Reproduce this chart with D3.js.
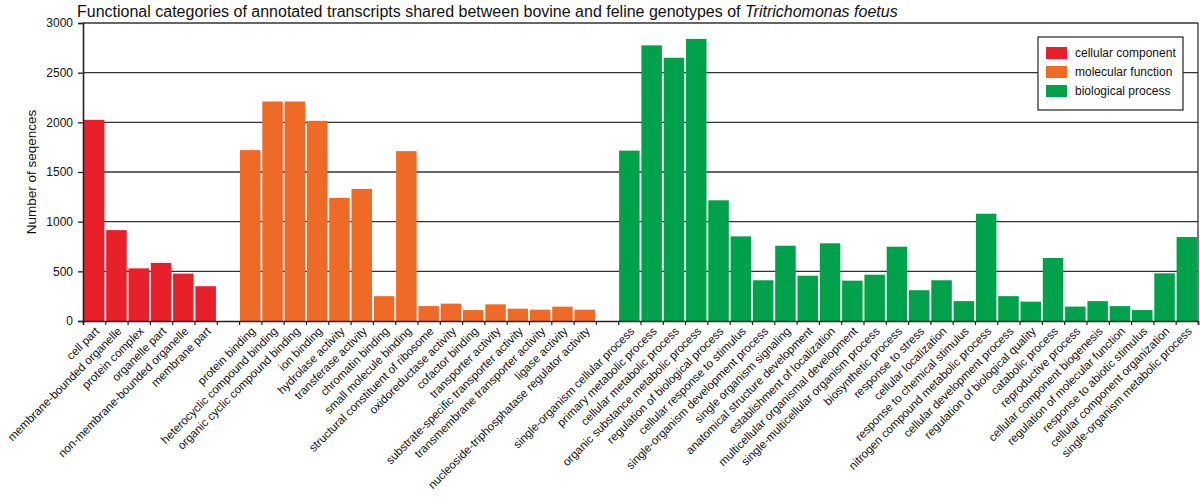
<!DOCTYPE html>
<html><head><meta charset="utf-8">
<script src="https://cdn.jsdelivr.net/npm/d3@7/dist/d3.min.js"></script>
<style>
body{margin:0;background:#fff;}
svg{display:block;font-family:"Liberation Sans",Arial,sans-serif;}
</style></head>
<body><svg id="chart" width="1200" height="497"></svg>
<script>
const cellularComponent = ["cell part","membrane-bounded organelle","protein complex","organelle part","non-membrane-bounded organelle","membrane part"];
const cellularValues = [2025,915,530,585,477,350];

const molecularFunction = ["protein binding","heterocyclic compound binding","organic cyclic compound binding","ion binding","hydrolase activity","transferase activity","chromatin binding","small molecule binding","structural constituent of ribosome","oxidoreductase activity","cofactor binding","transporter activity","substrate-specific transporter activity","transmembrane transporter activity","ligase activity","nucleoside-triphosphatase regulator activity"];
const molecularValues = [1720,2210,2210,2015,1240,1330,250,1710,150,175,110,168,124,114,144,114];

const biologicalProcess = ["single-organism cellular process","primary metabolic process","cellular metabolic process","organic substance metabolic process","regulation of biological process","cellular response to stimulus","single-organism development process","single organism signaling","anatomical structure development","establishment of localization","multicellular organismal development","single-multicellular organism process","biosynthetic process","response to stress","cellular localization","response to chemical stimulus","nitrogen compound metabolic process","cellular development process","regulation of biological quality","catabolic process","reproductive process","cellular component biogenesis","regulation of molecular function","response to abiotic stimulus","cellular component organization","single-organism metabolic process"];
const biologicalValues = [1715,2775,2650,2840,1215,852,410,758,456,782,406,466,748,310,410,200,1080,250,195,635,145,200,150,110,480,845];

const groupNames = ["cellular component","molecular function","biological process"];
const groupColors = ["#e8202a","#ef6a26","#00a14b"];
const yTicks = [0,500,1000,1500,2000,2500,3000];

const x0 = 83, x1 = 1198, yTop = 23, yBot = 321;

const groups = [[cellularComponent,cellularValues],[molecularFunction,molecularValues],[biologicalProcess,biologicalValues]];
const rows = [];
const domain = [];
groups.forEach((g,gi)=>{
  if(gi>0){ domain.push("__gap"+gi); }
  g[0].forEach((c,i)=>{ rows.push({cat:c,val:g[1][i],group:gi}); domain.push(c); });
});

const svg = d3.select("#chart");
const x = d3.scaleBand().domain(domain).range([x0,x1]).padding(0);
const xLin = d3.scaleLinear().domain([0,domain.length]).range([x0,x1]);
const y = d3.scaleLinear().domain([0,3000]).range([yBot,yTop]);

// gridlines
svg.append("g").selectAll("line").data(yTicks.filter(t=>t>0)).join("line")
  .attr("x1",x0).attr("x2",x1).attr("y1",d=>y(d)).attr("y2",d=>y(d))
  .attr("stroke","#333").attr("stroke-width",1.3);
svg.append("line").attr("x1",x1).attr("x2",x1).attr("y1",yTop).attr("y2",yBot)
  .attr("stroke","#333").attr("stroke-width",1.3);

// bars
svg.append("g").selectAll("rect").data(rows).join("rect")
  .attr("x",d=>x(d.cat)+0.9)
  .attr("width",x.bandwidth()-1.8)
  .attr("y",d=>y(d.val))
  .attr("height",d=>yBot-y(d.val))
  .attr("fill",d=>groupColors[d.group]);

// y axis
const yAxis = svg.append("g").attr("transform",`translate(${x0},0)`)
  .call(d3.axisLeft(y).tickValues(yTicks).tickFormat(d3.format("d")).tickSize(5).tickPadding(5));
yAxis.select(".domain").attr("stroke","#222").attr("stroke-width",1.6);
yAxis.selectAll(".tick line").attr("stroke","#222").attr("stroke-width",1.3);
yAxis.selectAll("text").attr("font-size",12).attr("fill","#111")
  .attr("font-family","'Liberation Sans',Arial,sans-serif");

// x axis with ticks at slot boundaries
const xAxis = svg.append("g").attr("transform",`translate(0,${yBot})`)
  .call(d3.axisBottom(xLin).tickValues(d3.range(domain.length+1)).tickSize(4).tickFormat(""));
xAxis.select(".domain").attr("stroke","#222").attr("stroke-width",1.6);
xAxis.selectAll(".tick line").attr("stroke","#222").attr("stroke-width",1.2);

// x labels
svg.append("g").selectAll("text").data(rows).join("text")
  .attr("transform",d=>`translate(${x(d.cat)+x.bandwidth()/2+3},${yBot+8}) rotate(-45)`)
  .attr("text-anchor","end")
  .attr("dy","0.35em")
  .attr("font-size",11.6)
  .attr("fill","#111")
  .text(d=>d.cat);

// y title
svg.append("text")
  .attr("transform",`translate(36,${(yTop+yBot)/2}) rotate(-90)`)
  .attr("text-anchor","middle")
  .attr("font-size",13.5).attr("fill","#111")
  .text("Number of seqences");

// title
const title = svg.append("text").attr("x",77).attr("y",17).attr("font-size",16).attr("fill","#111");
title.append("tspan").text("Functional categories of annotated transcripts shared between bovine and feline genotypes of ");
title.append("tspan").attr("font-style","italic").text("Tritrichomonas foetus");

// legend
const lg = svg.append("g").attr("transform","translate(1038,37)");
lg.append("rect").attr("width",145).attr("height",73).attr("fill","#fff")
  .attr("stroke","#333").attr("stroke-width",1.3);
groupNames.forEach((n,i)=>{
  lg.append("rect").attr("x",8).attr("y",10+i*19).attr("width",21).attr("height",12).attr("fill",groupColors[i]);
  lg.append("text").attr("x",37).attr("y",16+i*19).attr("dy","0.35em").attr("font-size",12).attr("fill","#111").text(n);
});
</script></body></html>
